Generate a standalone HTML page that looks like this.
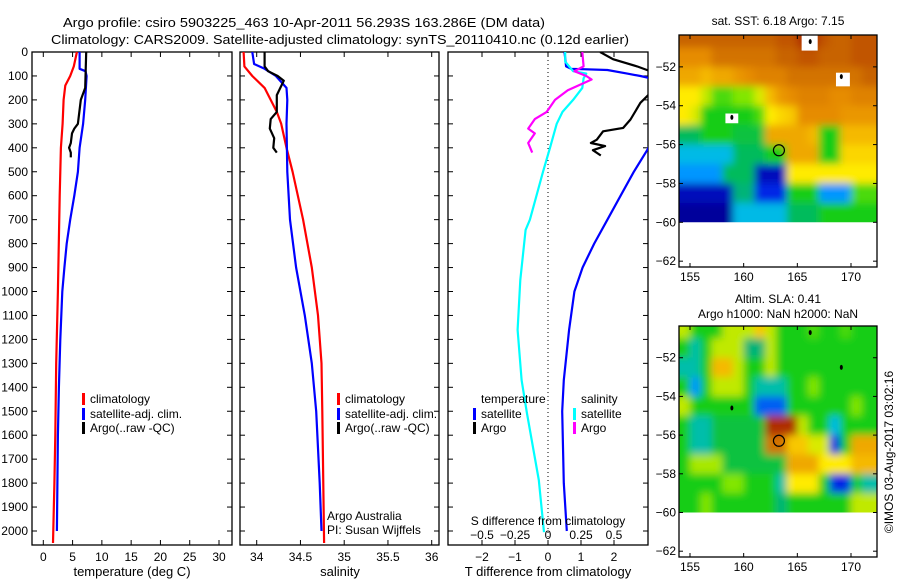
<!DOCTYPE html>
<html><head><meta charset="utf-8"><style>
body{margin:0;background:#fff;}
svg{display:block;font-family:"Liberation Sans",sans-serif;}
</style></head><body>
<svg id="c" width="900" height="580" viewBox="0 0 900 580">
<text x="63" y="27" font-size="13" textLength="482" lengthAdjust="spacingAndGlyphs">Argo profile: csiro 5903225_463 10-Apr-2011 56.293S 163.286E (DM data)</text>
<text x="51" y="44" font-size="13" textLength="578" lengthAdjust="spacingAndGlyphs">Climatology: CARS2009. Satellite-adjusted climatology: synTS_20110410.nc (0.12d earlier)</text>
<g id="g"></g>
</svg>
<script>
// ---- data ----
const depthTicks=[0,100,200,300,400,500,600,700,800,900,1000,1100,1200,1300,1400,1500,1600,1700,1800,1900,2000];
const tempTicks=[0,5,10,15,20,25,30];
const salTicks=[34,34.5,35,35.5,36];
const tdiffTicks=[-2,-1,0,1,2];
const sdiffTicks=[-0.5,-0.25,0,0.25,0.5];
const climTD=[0,60,100,140,200,300,400,600,800,1000,1300,1600,1800,2050];
const climT=[5.74,5.2,4.6,3.75,3.47,3.3,3.0,2.8,2.65,2.5,2.2,2.05,1.9,1.65];
const satTD=[0,70,80,100,200,300,400,500,600,700,800,900,1000,1200,1400,1600,1800,2000];
const satT=[6.2,6.2,7.2,7.4,7.15,6.8,6.2,5.9,5.3,4.6,4.0,3.6,3.25,2.9,2.67,2.5,2.4,2.33];
const argoTD=[0,150,200,300,320,340,380,400,420,440];
const argoT=[7.33,7.15,6.4,5.9,5.3,4.9,4.7,4.4,4.7,4.7];
const climSD=[0,60,100,150,200,250,300,400,500,700,900,1100,1300,1500,2050];
const climS=[33.85,33.86,33.95,34.09,34.16,34.23,34.28,34.34,34.41,34.53,34.63,34.7,34.74,34.75,34.77];
const satSD=[0,50,70,100,150,200,300,500,700,900,1100,1300,1500,1800,2000];
const satS=[33.95,33.97,34.09,34.22,34.34,34.35,34.34,34.35,34.38,34.45,34.55,34.63,34.68,34.72,34.74];
const argoSD=[0,60,80,100,120,150,180,250,280,320,360,400,420];
const argoS=[34.09,34.09,34.13,34.24,34.31,34.27,34.23,34.23,34.16,34.15,34.2,34.19,34.23];
const satTdD=[0,60,70,75,90,100,110,200,400,500,600,700,800,900,1000,1160,1370,1500,1800,2000];
const satTd=[0.5,0.55,0.7,1.8,2.4,2.8,3.1,3.5,3.05,2.6,2.2,1.8,1.4,1.05,0.8,0.64,0.48,0.43,0.48,0.57];
const argoTdD=[0,30,60,80,171,212,282,317,331,366,380,393,410,432];
const argoTd=[1.58,1.97,2.7,3.1,3.1,2.8,2.5,2.28,1.67,1.48,1.3,1.73,1.36,1.6];
const satSdD=[0,40,80,90,110,150,200,250,300,400,500,700,743,952,1160,1370,1507,1787,2005];
const satSd=[0.13,0.13,0.19,0.29,0.27,0.26,0.19,0.11,0.066,0.015,-0.038,-0.137,-0.17,-0.21,-0.23,-0.2,-0.16,-0.07,-0.03];
const argoSdD=[0,60,80,100,115,130,160,200,250,280,320,340,380,420];
const argoSd=[0.26,0.27,0.2,0.29,0.33,0.27,0.15,0.053,-0.01,-0.1,-0.15,-0.1,-0.15,-0.12];
const latTicks=[-52,-54,-56,-58,-60,-62];
const lonTicks=[155,160,165,170];
const gridLons=[154,155,156,157,158,159,160,161,162,163,164,165,166,167,168,169,170,171];
const gridLats=[-50.36,-51,-52,-53,-54,-55,-56,-57,-58,-59];
const sst=[
[.88,.88,.88,.88,.88,.88,.88,.88,.88,.9,.9,.95,.95,.9,.88,.88,.9,.9],
[.8,.8,.8,.85,.85,.85,.85,.85,.85,.88,.88,.9,.9,.88,.88,.88,.9,.9],
[.75,.75,.72,.75,.75,.78,.8,.82,.82,.82,.85,.85,.85,.85,.85,.85,.85,.88],
[.65,.65,.6,.5,.5,.55,.55,.62,.72,.78,.8,.82,.82,.82,.8,.8,.82,.82],
[.65,.62,.45,.45,.45,.45,.45,.5,.65,.68,.7,.8,.8,.8,.8,.78,.78,.78],
[.4,.4,.45,.45,.45,.42,.42,.42,.75,.75,.75,.75,.72,.45,.45,.72,.72,.72],
[.3,.3,.3,.3,.3,.4,.4,.4,.45,.45,.75,.75,.75,.45,.45,.68,.68,.68],
[.25,.25,.25,.25,.4,.4,.4,.1,.1,.1,.65,.65,.65,.65,.65,.65,.65,.65],
[.1,.1,.1,.1,.1,.38,.38,.15,.15,.15,.45,.45,.45,.25,.25,.25,.5,.5],
[.05,.05,.05,.05,.05,.3,.3,.3,.3,.3,.4,.4,.4,.45,.45,.45,.45,.45]];
const sla=[
[.6,.45,.45,.45,.6,.6,.6,.7,.6,.45,.45,.45,.5,.45,.45,.5,.45,.45],
[.45,.35,.45,.6,.6,.6,.38,.38,.6,.45,.45,.45,.45,.45,.45,.45,.45,.45],
[.35,.35,.45,.72,.72,.6,.45,.45,.6,.45,.45,.45,.45,.45,.45,.45,.45,.45],
[.45,.25,.45,.6,.6,.6,.45,.35,.35,.35,.45,.45,.55,.45,.45,.45,.45,.45],
[.6,.45,.45,.45,.45,.45,.45,.2,.2,.2,.45,.45,.45,.45,.45,.45,.55,.45],
[.45,.35,.35,.42,.42,.42,.42,.42,.95,.95,.95,.6,.45,.45,.3,.45,.45,.45],
[.45,.35,.35,.42,.42,.42,.42,.42,.85,.85,.7,.7,.62,.62,.15,.45,.75,.75],
[.45,.58,.58,.58,.42,.42,.42,.42,.42,.42,.75,.75,.75,.65,.65,.65,.72,.72],
[.45,.45,.45,.45,.55,.55,.45,.45,.45,.35,.65,.65,.65,.45,.15,.15,.45,.35],
[.45,.45,.55,.45,.45,.45,.45,.45,.45,.38,.45,.45,.45,.45,.45,.45,.6,.6]];

// ---- helpers ----
const NS='http://www.w3.org/2000/svg';
const G=document.getElementById('g');
function mk(tag,at,parent){const e=document.createElementNS(NS,tag);for(const k in at)e.setAttribute(k,at[k]);(parent||G).appendChild(e);return e;}
function txt(x,y,s,anchor,size){const t=mk('text',{x:x,y:y,'font-size':size||12,'text-anchor':anchor||'start'});t.textContent=s;return t;}
const TOP=52,BOT=545;
const yD=d=>TOP+d*0.2395;
function lin(d0,p0,d1,p1){return v=>p0+(v-d0)*(p1-p0)/(d1-d0);}
const xT=lin(0,43.3,30,219);
const xS=lin(34,256.7,36,431.7);
const xTd=lin(0,548,1,581);
const xSd=lin(0,548,0.25,581);

function panel(x0,x1,name,xt,xticks,labels){
  const r=mk('rect',{x:x0,y:TOP,width:x1-x0,height:BOT-TOP,fill:'none',stroke:'#000','stroke-width':1.3});
  
  
  depthTicks.forEach(d=>{const y=yD(d);mk('line',{x1:x0,x2:x0+5,y1:y,y2:y,stroke:'#000'});mk('line',{x1:x1-5,x2:x1,y1:y,y2:y,stroke:'#000'});});
  xticks.forEach(v=>{const x=xt(v);mk('line',{x1:x,x2:x,y1:BOT,y2:BOT-5,stroke:'#000'});mk('line',{x1:x,x2:x,y1:TOP,y2:TOP+5,stroke:'#000'});
    if(labels){const t=txt(x,561,String(v).replace('-','−'),'middle');}});
}
function line(D,V,xf,col,name,clipId){
  const pts=D.map((d,i)=>xf(V[i]).toFixed(1)+','+yD(d).toFixed(1)).join(' ');
  const p=mk('polyline',{points:pts,fill:'none',stroke:col,'stroke-width':2.2,'stroke-linejoin':'round'});
  if(clipId)p.setAttribute('clip-path','url(#'+clipId+')');
  
  
}
function legend(mx,tx,y,col,label,name){
  mk('rect',{x:mx,y:y-10,width:3,height:12,fill:col});
  const t=txt(tx,y,label);
  
  
}
const defs=mk('defs',{});
const cp=mk('clipPath',{id:'p3clip'},defs);mk('rect',{x:448,y:TOP,width:200,height:BOT-TOP},cp);
const fl=mk('filter',{id:'blur',x:'-5%',y:'-5%',width:'110%',height:'110%'},defs);
mk('feGaussianBlur',{stdDeviation:4,edgeMode:'duplicate'},fl);

// panel 1
panel(32,232,'temperature-panel',xT,tempTicks,true);
depthTicks.forEach(d=>{const t=txt(28,yD(d)+4,String(d),'end');});
line(climTD,climT,xT,'#ff0000','temp-climatology-line');
line(satTD,satT,xT,'#0000ff','temp-satellite-line');
line(argoTD,argoT,xT,'#000','temp-argo-line');
let t=txt(132,576,'temperature (deg C)','middle',13);
legend(82,90,403,'#ff0000','climatology','legend-climatology');
legend(82,90,418,'#0000ff','satellite-adj. clim.','legend-satellite');
legend(82,90,432,'#000','Argo(..raw -QC)','legend-argo');

// panel 2
panel(240,439,'salinity-panel',xS,salTicks,true);
line(climSD,climS,xS,'#ff0000','sal-climatology-line');
line(satSD,satS,xS,'#0000ff','sal-satellite-line');
line(argoSD,argoS,xS,'#000','sal-argo-line');
t=txt(340,576,'salinity','middle',13);
legend(337,345,403,'#ff0000','climatology','legend-climatology-2');
legend(337,345,418,'#0000ff','satellite-adj. clim.','legend-satellite-2');
legend(337,345,432,'#000','Argo(..raw -QC)','legend-argo-2');
t=txt(327,520,'Argo Australia');
t=txt(327,534,'PI: Susan Wijffels');

// panel 3
panel(448,648,'difference-panel',xTd,tdiffTicks,true);
mk('line',{x1:548,x2:548,y1:TOP,y2:BOT,stroke:'#000','stroke-dasharray':'1,3'});
line(satTdD,satTd,xTd,'#0000ff','tdiff-satellite-line','p3clip');
line(argoTdD,argoTd,xTd,'#000','tdiff-argo-line','p3clip');
line(satSdD,satSd,xSd,'#00ffff','sdiff-satellite-line','p3clip');
line(argoSdD,argoSd,xSd,'#ff00ff','sdiff-argo-line','p3clip');
sdiffTicks.forEach(v=>{const x=xSd(v);const tt=txt(x,539,String(v).replace('-','−'),'middle');});
t=txt(548,525,'S difference from climatology','middle');
t=txt(548,576,'T difference from climatology','middle',13);
t=txt(481,403,'temperature');
legend(473,481,418,'#0000ff','satellite','legend-t-satellite');
legend(473,481,432,'#000','Argo','legend-t-argo');
t=txt(581,403,'salinity');
legend(573,581,418,'#00ffff','satellite','legend-s-satellite');
legend(573,581,432,'#ff00ff','Argo','legend-s-argo');

// maps
const cmStops=[[0,0,0,130],[0.08,0,0,170],[0.15,0,40,230],[0.25,0,150,255],[0.32,0,200,220],[0.38,0,180,120],[0.45,20,205,20],[0.55,130,230,0],[0.65,255,235,0],[0.72,245,185,0],[0.8,230,140,0],[0.88,200,100,0],[0.95,175,45,0],[1,150,0,0]];
function cmap(v){for(let i=1;i<cmStops.length;i++){if(v<=cmStops[i][0]){const a=cmStops[i-1],b=cmStops[i],f=(v-a[0])/(b[0]-a[0]);
  return 'rgb('+[1,2,3].map(k=>Math.round(a[k]+f*(b[k]-a[k]))).join(',')+')';}}return 'rgb(150,0,0)';}
function map(top,bottom,grid,name){
  const L=679,R=877;
  const xL=lin(155,690,170,851);
  const yL=lin(-52,top+(bottom-top)*(1.64/11.94),-60,top+(bottom-top)*(9.64/11.94));
  const cid=name+'-clip';
  const c2=mk('clipPath',{id:cid},defs);mk('rect',{x:L,y:top,width:R-L,height:yL(-60)-top},c2);
  const outer=mk('g',{'clip-path':'url(#'+cid+')'});
  const gg=mk('g',{filter:'url(#blur)'},outer);
  
  
  grid.forEach((row,i)=>row.forEach((v,j)=>{
    const x0=j===0?L-10:xL(gridLons[j]),x1=j+1<gridLons.length?xL(gridLons[j+1]):R+10;
    const y0=i===0?top-10:yL(gridLats[i]),y1=i+1<gridLats.length?yL(gridLats[i+1]):yL(-60)+10;
    const c=mk('rect',{x:x0,y:y0,width:x1-x0+0.5,height:y1-y0+0.5,fill:cmap(v)},gg);
    
    
  }));
  if(name==='sst-map'){
    [[165.4,-50.36,1.5,0.8],[158.3,-54.4,1.2,0.5],[168.6,-52.3,1.3,0.7]].forEach(b=>mk('rect',{x:xL(b[0]),y:yL(b[1]),width:b[2]*10.7,height:b[3]*19.5,fill:'#fff'},outer));
  }
  [[166.2,-50.7],[158.9,-54.6],[169.1,-52.5]].forEach(p=>mk('ellipse',{cx:xL(p[0]),cy:yL(p[1]),rx:1.5,ry:2.5,fill:'#000'},outer));
  const ci=mk('circle',{cx:xL(163.286),cy:yL(-56.293),r:5.5,fill:'none',stroke:'#000','stroke-width':1.2});
  
  
  mk('rect',{x:L,y:top,width:R-L,height:bottom-top,fill:'none',stroke:'#000','stroke-width':1.3});
  latTicks.forEach(v=>{const y=yL(v);mk('line',{x1:L,x2:L+4,y1:y,y2:y,stroke:'#000'});mk('line',{x1:R-4,x2:R,y1:y,y2:y,stroke:'#000'});
    const tt=txt(L-3,y+4,String(v).replace('-','−'),'end');});
  lonTicks.forEach(v=>{const x=xL(v);mk('line',{x1:x,x2:x,y1:bottom,y2:bottom-4,stroke:'#000'});mk('line',{x1:x,x2:x,y1:top,y2:top+4,stroke:'#000'});
    const tt=txt(x,bottom+14,String(v),'middle');});
}
map(35,267,sst,'sst-map');
map(326,557,sla,'sla-map');
t=txt(778,25,'sat. SST: 6.18 Argo: 7.15','middle');
t=txt(778,303,'Altim. SLA: 0.41','middle');
t=txt(778,318,'Argo h1000: NaN h2000: NaN','middle');
t=txt(0,0,'©IMOS 03-Aug-2017 03:02:16','middle');t.setAttribute('transform','translate(893,452) rotate(-90)');
</script>
</body></html>
